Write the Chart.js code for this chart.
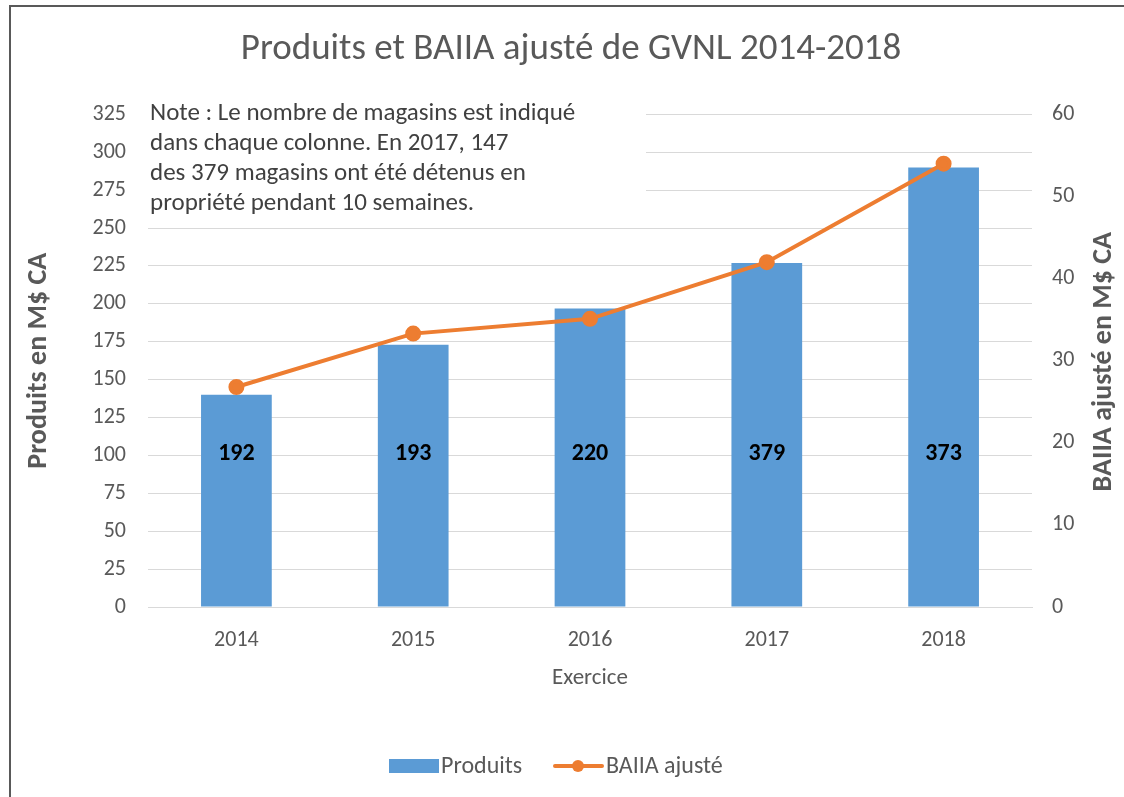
<!DOCTYPE html>
<html>
<head>
<meta charset="utf-8">
<script src="https://cdn.jsdelivr.net/npm/chart.js@4.4.0/dist/chart.umd.min.js"></script>
<style>
  body { margin: 0; background: #fff; }
  #wrap { position: relative; width: 1124px; height: 797px; }
  #frame { position: absolute; left: 9px; top: 5px; right: -10px; bottom: -10px;
           border-left: 2px solid #595959; border-top: 2px solid #595959; pointer-events: none; }
</style>
</head>
<body>
<div id="wrap">
  <canvas id="resultPlot"></canvas>
  <div id="frame"></div>
</div>
<script>
// chart data
const years = ['2014', '2015', '2016', '2017', '2018'];
const produits = [140, 173, 197, 227, 290];
const baiia = [26.8, 33.3, 35.1, 42, 54];
const magasins = ['192', '193', '220', '379', '373'];
const noteLines = [
    'Note : Le nombre de magasins est indiqué',
    'dans chaque colonne. En 2017, 147',
    'des 379 magasins ont été détenus en',
    'propriété pendant 10 semaines.'
];

const FONT = 'Calibri, Carlito, Lato, sans-serif';
const GREY = '#595959';
const BLUE = '#5B9BD5';
const ORANGE = '#ED7D31';

/**
 * store counts inside bars, the note, right axis title and the legend
 */
const extrasPlugin = {
    id: 'extras',
    afterDatasetsDraw(chart) {
        let ctx = chart.ctx;
        let x = chart.scales.x;
        let yl = chart.scales.yLeft;
        let area = chart.chartArea;
        ctx.save();
        ctx.font = 'bold 24px ' + FONT;
        ctx.fillStyle = '#000';
        ctx.textAlign = 'center';
        ctx.textBaseline = 'middle';
        for (let i = 0; i < magasins.length; i++) {
            ctx.fillText(magasins[i], x.getPixelForValue(i), yl.getPixelForValue(101));
        }

        // right axis title, read from bottom to top
        ctx.save();
        ctx.translate(1104, (area.top + area.bottom) / 2 + 1);
        ctx.rotate(-Math.PI / 2);
        ctx.font = 'bold 28px ' + FONT;
        ctx.fillStyle = GREY;
        ctx.fillText('BAIIA ajusté en M$ CA', 0, 0);
        ctx.restore();

        // note box covers the gridlines
        ctx.fillStyle = '#fff';
        ctx.fillRect(141, 95, 505, 124);
        ctx.font = '25px ' + FONT;
        ctx.fillStyle = '#404040';
        ctx.textAlign = 'left';
        for (let i = 0; i < noteLines.length; i++) {
            ctx.fillText(noteLines[i], 150, 114 + i * 30);
        }

        // legend
        let ly = 766;
        ctx.fillStyle = BLUE;
        ctx.fillRect(389, ly - 7, 50, 14);
        ctx.strokeStyle = ORANGE;
        ctx.lineWidth = 4;
        ctx.lineCap = 'round';
        ctx.beginPath();
        ctx.moveTo(555, ly);
        ctx.lineTo(602, ly);
        ctx.stroke();
        ctx.fillStyle = ORANGE;
        ctx.beginPath();
        ctx.arc(578, ly, 6, 0, Math.PI * 2);
        ctx.fill();
        ctx.font = '24px ' + FONT;
        ctx.fillStyle = GREY;
        ctx.fillText('Produits', 441, ly + 1);
        ctx.fillText('BAIIA ajusté', 606, ly + 1);
        ctx.restore();
    }
};

function draw() {
    let plotArea = document.getElementById('resultPlot');
    let chartObject = {};
    chartObject['type'] = 'bar';
    chartObject['data'] = {
        labels: years,
        datasets: [
            {
                type: 'line',
                label: 'BAIIA ajusté',
                data: baiia,
                yAxisID: 'yRight',
                borderColor: ORANGE,
                backgroundColor: ORANGE,
                borderWidth: 4,
                pointRadius: 6,
                pointHoverRadius: 6,
                tension: 0,
                order: 0
            },
            {
                label: 'Produits',
                data: produits,
                yAxisID: 'yLeft',
                backgroundColor: BLUE,
                barPercentage: 0.4,
                categoryPercentage: 1,
                order: 1
            }
        ]
    };
    chartObject['options'] = {
        responsive: true,
        maintainAspectRatio: false,
        animation: false,
        layout: {padding: {left: 20, right: 2, top: 0, bottom: 102}},
        plugins: {
            legend: {display: false},
            tooltip: {enabled: false},
            title: {
                display: true,
                text: 'Produits et BAIIA ajusté de GVNL 2014-2018',
                color: GREY,
                font: {family: FONT, size: 37, weight: 'normal'},
                padding: {top: 28, bottom: 42}
            }
        },
        scales: {
            x: {
                grid: {display: false},
                border: {display: true, color: '#d9d9d9'},
                ticks: {color: GREY, font: {family: FONT, size: 22}, padding: 12},
                title: {display: true, text: 'Exercice', color: GREY,
                        font: {family: FONT, size: 23}, padding: {top: 4, bottom: 3}},
                afterFit(scale) { scale.height = 88; }
            },
            yLeft: {
                position: 'left',
                min: 0, max: 325,
                ticks: {stepSize: 25, color: GREY, font: {family: FONT, size: 22}, padding: 22},
                grid: {color: '#d9d9d9', drawTicks: false},
                border: {display: false},
                title: {display: true, text: 'Produits en M$ CA', color: GREY,
                        font: {family: FONT, size: 28, weight: 'bold'}, padding: {top: 2, bottom: 2}},
                afterFit(scale) { scale.width = 128; }
            },
            yRight: {
                position: 'right',
                min: 0, max: 60,
                ticks: {stepSize: 10, color: GREY, font: {family: FONT, size: 22}, padding: 20},
                grid: {display: false, drawTicks: false},
                border: {display: false},
                title: {display: false},
                afterFit(scale) { scale.width = 90; }
            }
        }
    };
    chartObject['plugins'] = [extrasPlugin];
    new Chart(plotArea, chartObject);
}

draw();
</script>
</body>
</html>
